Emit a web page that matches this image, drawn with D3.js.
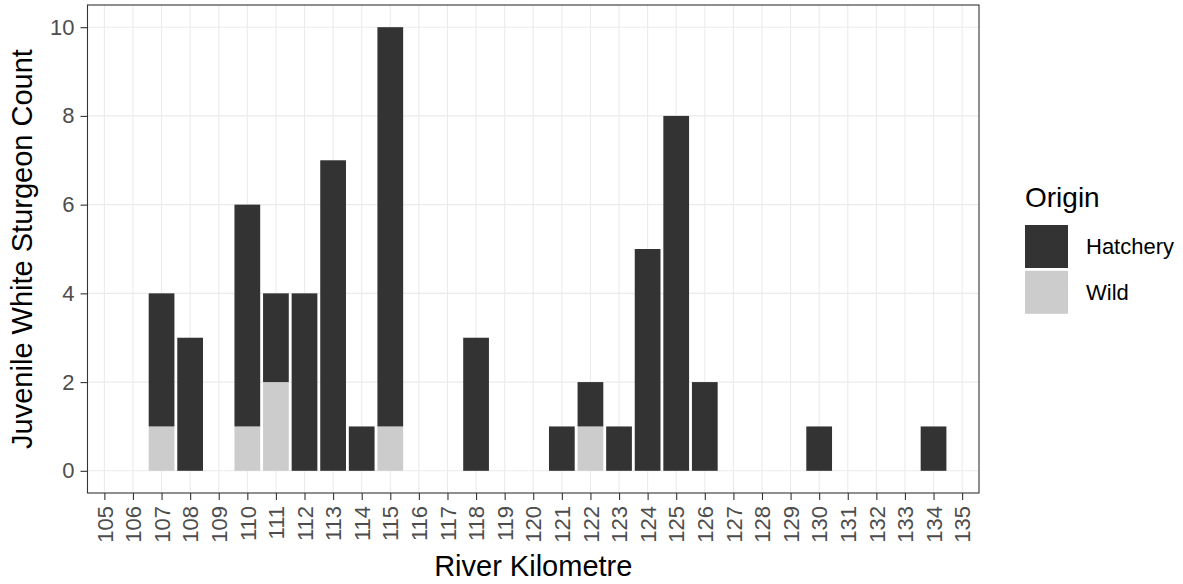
<!DOCTYPE html>
<meta charset="utf-8">
<style>
body { margin: 0; background: #fff; }
svg { display: block; font-family: "Liberation Sans", Arial, sans-serif; }
.grid line { stroke: #ebebeb; stroke-width: 1.1; }
.axis text { fill: #4d4d4d; font-size: 22px; }
.axis line { stroke: #333333; stroke-width: 1.1; }
.title { fill: #000; font-size: 29px; }
</style>
<svg width="1183" height="584"></svg>
<script src="https://d3js.org/d3.v7.min.js"></script>
<script>

// river kilometre of each bar, counts per origin
var rkm      = [107, 108, 110, 111, 112, 113, 114, 115, 118, 121, 122, 123, 124, 125, 126, 130, 134];
var hatchery = [3,   3,   5,   2,   4,   7,   1,   9,   3,   1,   1,   1,   5,   8,   2,   1,   1];
var wild     = [1,   0,   1,   2,   0,   0,   0,   1,   0,   0,   1,   0,   0,   0,   0,   0,   0];

var origins = ["Hatchery", "Wild"];
var fills = { Hatchery: "#333333", Wild: "#cccccc" };
var xTicks = d3.range(105, 136);
var yTicks = [0, 2, 4, 6, 8, 10];

var svg = d3.select("svg");

var panel = { left: 87.5, right: 979, top: 5, bottom: 493 };

var x = d3.scaleLinear()
    .domain([104.41, 135.59])
    .range([panel.left, panel.right]);

var y = d3.scaleLinear()
    .domain([-0.5, 10.5])
    .range([panel.bottom, panel.top]);

var rows = rkm.map(function(k, i) {
  return { rkm: k, Hatchery: hatchery[i], Wild: wild[i] };
});

// wild sits at the bottom of each stack
var stack = d3.stack().keys(["Wild", "Hatchery"]);
var layers = stack(rows);

// grid
var grid = svg.append("g").attr("class", "grid");
grid.selectAll(".vx")
    .data(xTicks)
  .enter().append("line")
    .attr("x1", function(d) { return x(d); })
    .attr("x2", function(d) { return x(d); })
    .attr("y1", panel.top)
    .attr("y2", panel.bottom);
grid.selectAll(".hy")
    .data(yTicks)
  .enter().append("line")
    .attr("x1", panel.left)
    .attr("x2", panel.right)
    .attr("y1", function(d) { return y(d); })
    .attr("y2", function(d) { return y(d); });

// bars
svg.append("g")
  .selectAll("g")
  .data(layers)
  .enter().append("g")
    .attr("fill", function(d) { return fills[d.key]; })
  .selectAll("rect")
  .data(function(d) { return d.filter(function(s) { return s[1] > s[0]; }); })
  .enter().append("rect")
    .attr("x", function(d) { return x(d.data.rkm - 0.45); })
    .attr("width", function(d) { return x(d.data.rkm + 0.45) - x(d.data.rkm - 0.45); })
    .attr("y", function(d) { return y(d[1]); })
    .attr("height", function(d) { return y(d[0]) - y(d[1]); });

// panel border
svg.append("rect")
    .attr("x", panel.left)
    .attr("y", panel.top)
    .attr("width", panel.right - panel.left)
    .attr("height", panel.bottom - panel.top)
    .attr("fill", "none")
    .attr("stroke", "#333333")
    .attr("stroke-width", 1.1);

// axes
var xAxis = svg.append("g")
    .attr("class", "axis")
    .attr("transform", "translate(0," + panel.bottom + ")")
    .call(d3.axisBottom(x).tickValues(xTicks).tickSize(7).tickFormat(d3.format("d")));
xAxis.select(".domain").remove();
xAxis.selectAll("text")
    .attr("transform", "rotate(-90)")
    .attr("text-anchor", "end")
    .attr("x", -13)
    .attr("y", 0)
    .attr("dy", "0.35em");

var yAxis = svg.append("g")
    .attr("class", "axis")
    .attr("transform", "translate(" + panel.left + ",0)")
    .call(d3.axisLeft(y).tickValues(yTicks).tickSize(7));
yAxis.select(".domain").remove();
yAxis.selectAll("text").attr("x", -13);

// axis titles
svg.append("text")
    .attr("class", "title")
    .attr("x", (panel.left + panel.right) / 2)
    .attr("y", 576)
    .attr("text-anchor", "middle")
    .text("River Kilometre");

svg.append("text")
    .attr("class", "title")
    .attr("transform", "translate(32," + (panel.top + panel.bottom) / 2 + ") rotate(-90)")
    .attr("text-anchor", "middle")
    .text("Juvenile White Sturgeon Count");

// legend
var legend = svg.append("g").attr("transform", "translate(1025,0)");
legend.append("text")
    .attr("x", 0)
    .attr("y", 207)
    .style("font-size", "28px")
    .text("Origin");

var keys = legend.selectAll(".key")
    .data(origins)
  .enter().append("g")
    .attr("transform", function(d, i) { return "translate(0," + (225 + i * 45.8) + ")"; });
keys.append("rect")
    .attr("width", 43)
    .attr("height", 43)
    .attr("fill", function(d) { return fills[d]; });
keys.append("text")
    .attr("x", 61)
    .attr("y", 21.5)
    .attr("dy", "0.35em")
    .style("font-size", "22px")
    .text(function(d) { return d; });

</script>
